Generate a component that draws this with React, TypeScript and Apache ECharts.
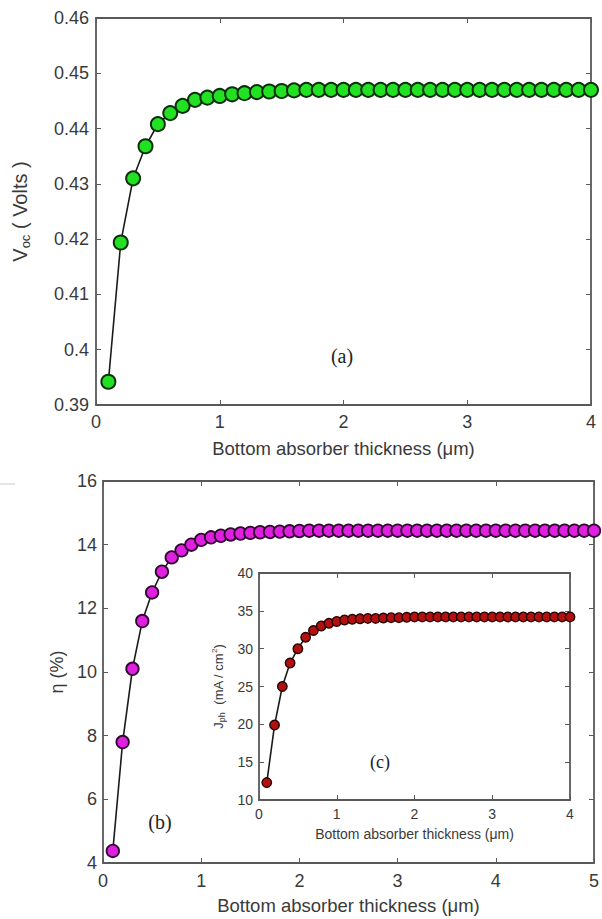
import React, { useEffect, useRef } from "react";
import * as echarts from "echarts";

// ---- data ----
const thicknessA = [
  0.1, 0.2, 0.3, 0.4, 0.5, 0.6, 0.7, 0.8, 0.9, 1.0,
  1.1, 1.2, 1.3, 1.4, 1.5, 1.6, 1.7, 1.8, 1.9, 2.0,
  2.1, 2.2, 2.3, 2.4, 2.5, 2.6, 2.7, 2.8, 2.9, 3.0,
  3.1, 3.2, 3.3, 3.4, 3.5, 3.6, 3.7, 3.8, 3.9, 4.0,
];
const vocValues = [
  0.3942, 0.4194, 0.431, 0.4368, 0.4408, 0.4428, 0.4441, 0.4452, 0.4456, 0.4459,
  0.4462, 0.4464, 0.4466, 0.4467, 0.4468, 0.4469, 0.447, 0.447, 0.447, 0.447,
  0.447, 0.447, 0.447, 0.447, 0.447, 0.447, 0.447, 0.447, 0.447, 0.447,
  0.447, 0.447, 0.447, 0.447, 0.447, 0.447, 0.447, 0.447, 0.447, 0.447,
];

const thicknessB = [
  0.1, 0.2, 0.3, 0.4, 0.5, 0.6, 0.7, 0.8, 0.9, 1.0,
  1.1, 1.2, 1.3, 1.4, 1.5, 1.6, 1.7, 1.8, 1.9, 2.0,
  2.1, 2.2, 2.3, 2.4, 2.5, 2.6, 2.7, 2.8, 2.9, 3.0,
  3.1, 3.2, 3.3, 3.4, 3.5, 3.6, 3.7, 3.8, 3.9, 4.0,
  4.1, 4.2, 4.3, 4.4, 4.5, 4.6, 4.7, 4.8, 4.9, 5.0,
];
const effValues = [
  4.38, 7.8, 10.1, 11.6, 12.5, 13.15, 13.6, 13.82, 14.0, 14.15,
  14.23, 14.28, 14.32, 14.35, 14.37, 14.39, 14.4, 14.41, 14.42, 14.43,
  14.44, 14.44, 14.44, 14.44, 14.44, 14.44, 14.44, 14.44, 14.44, 14.44,
  14.44, 14.44, 14.44, 14.44, 14.44, 14.44, 14.44, 14.44, 14.44, 14.44,
  14.44, 14.44, 14.44, 14.44, 14.44, 14.44, 14.44, 14.44, 14.44, 14.44,
];

const thicknessC = [
  0.1, 0.2, 0.3, 0.4, 0.5, 0.6, 0.7, 0.8, 0.9, 1.0,
  1.1, 1.2, 1.3, 1.4, 1.5, 1.6, 1.7, 1.8, 1.9, 2.0,
  2.1, 2.2, 2.3, 2.4, 2.5, 2.6, 2.7, 2.8, 2.9, 3.0,
  3.1, 3.2, 3.3, 3.4, 3.5, 3.6, 3.7, 3.8, 3.9, 4.0,
];
const jphValues = [
  12.3, 19.9, 25.0, 28.1, 30.0, 31.5, 32.4, 33.0, 33.35, 33.6,
  33.8, 33.9, 33.95, 34.0, 34.0, 34.05, 34.1, 34.1, 34.15, 34.2,
  34.2, 34.2, 34.2, 34.2, 34.2, 34.2, 34.2, 34.2, 34.2, 34.2,
  34.2, 34.2, 34.2, 34.2, 34.2, 34.2, 34.2, 34.2, 34.2, 34.2,
];

const xTitle = "Bottom absorber thickness (μm)";

const SANS = "'Liberation Sans', Arial, sans-serif";
const SERIF = "'Liberation Serif', 'DejaVu Serif', serif";
const AXIS = "#595959";
const TXT = "#3a3a3a";

function pairs(xs: number[], ys: number[]) {
  return xs.map((x, i) => [x, ys[i]]);
}

function mainX(grid: number, max: number, fontSize: number, margin: number, name: string, gap: number, nameSize: number) {
  return [
    {
      gridIndex: grid, type: "value", min: 0, max, interval: 1, position: "bottom",
      axisLine: { show: true, onZero: false, lineStyle: { color: AXIS, width: 1.8 } },
      axisTick: { show: true, inside: true, length: 5, lineStyle: { color: AXIS } },
      axisLabel: { color: TXT, fontSize, margin, fontFamily: SANS },
      splitLine: { show: false },
      name, nameLocation: "middle", nameGap: gap,
      nameTextStyle: { color: TXT, fontSize: nameSize, fontFamily: SANS },
    },
    {
      gridIndex: grid, type: "value", min: 0, max, interval: 1, position: "top",
      axisLine: { show: true, onZero: false, lineStyle: { color: AXIS, width: 1.8 } },
      axisTick: { show: true, inside: true, length: 5, lineStyle: { color: AXIS } },
      axisLabel: { show: false },
      splitLine: { show: false },
    },
  ];
}

function mainY(grid: number, min: number, max: number, interval: number, fontSize: number, margin: number, name: any, gap: number, nameSize: number, rich?: any) {
  return [
    {
      gridIndex: grid, type: "value", min, max, interval, position: "left",
      axisLine: { show: true, onZero: false, lineStyle: { color: AXIS, width: 1.8 } },
      axisTick: { show: true, inside: true, length: 5, lineStyle: { color: AXIS } },
      axisLabel: { color: TXT, fontSize, margin, fontFamily: SANS },
      splitLine: { show: false },
      name, nameLocation: "middle", nameGap: gap,
      nameTextStyle: { color: TXT, fontSize: nameSize, fontFamily: SANS, rich },
    },
    {
      gridIndex: grid, type: "value", min, max, interval, position: "right",
      axisLine: { show: true, onZero: false, lineStyle: { color: AXIS, width: 1.8 } },
      axisTick: { show: true, inside: true, length: 5, lineStyle: { color: AXIS } },
      axisLabel: { show: false },
      splitLine: { show: false },
    },
  ];
}

export default function App() {
  const ref = useRef<HTMLDivElement>(null);
  useEffect(() => {
    if (!ref.current) return;
    const chart = echarts.init(ref.current, null, { renderer: "svg" });
    const option: any = {
      animation: false,
      backgroundColor: "#fff",
      textStyle: { fontFamily: SANS },
      grid: [
        { left: 96, top: 18, width: 495, height: 387, show: true, borderWidth: 0, backgroundColor: "#fff" },
        { left: 103, top: 481, width: 495, height: 382, show: true, borderWidth: 0, backgroundColor: "#fff" },
        { left: 259, top: 573, width: 311, height: 227, show: true, borderWidth: 0, backgroundColor: "#fff" },
      ],
      xAxis: [
        ...mainX(0, 4, 18, 8, xTitle, 34, 18.5),
        ...mainX(1, 5, 18, 9, xTitle, 33, 18.5),
        ...mainX(2, 4, 14, 7, xTitle, 27, 14),
      ],
      yAxis: [
        ...mainY(0, 0.39, 0.46, 0.01, 18, 7, "{v|V}{s|oc}{v| ( Volts )}", 64, 20, {
          v: { fontSize: 20, color: TXT, fontFamily: SANS },
          s: { fontSize: 13, color: TXT, fontFamily: SANS, padding: [12, 0, 0, 0] },
        }),
        ...mainY(1, 4, 16, 2, 18, 6, "η (%)", 35, 18),
        ...mainY(2, 10, 40, 5, 14, 6, "{v|J}{s|ph}{v|  (mA / cm}{p|2}{v|)}", 30, 13, {
          v: { fontSize: 13, color: TXT, fontFamily: SANS },
          s: { fontSize: 9, color: TXT, fontFamily: SANS, padding: [8, 0, 0, 0] },
          p: { fontSize: 8, color: TXT, fontFamily: SANS, padding: [0, 0, 7, 0] },
        }),
      ],
      series: [
        {
          type: "line", xAxisIndex: 0, yAxisIndex: 0, data: pairs(thicknessA, vocValues),
          symbol: "circle", symbolSize: 14,
          lineStyle: { color: "#1a1a1a", width: 1.6 },
          itemStyle: { color: "#22e022", borderColor: "#0b300b", borderWidth: 2 },
        },
        {
          type: "line", xAxisIndex: 2, yAxisIndex: 2, data: pairs(thicknessB, effValues),
          symbol: "circle", symbolSize: 12.5,
          lineStyle: { color: "#1a1a1a", width: 1.6 },
          itemStyle: { color: "#e020e0", borderColor: "#300830", borderWidth: 1.8 },
        },
        {
          type: "line", xAxisIndex: 4, yAxisIndex: 4, data: pairs(thicknessC, jphValues),
          symbol: "circle", symbolSize: 9.5,
          lineStyle: { color: "#1a1a1a", width: 1.6 },
          itemStyle: { color: "#b31010", borderColor: "#250404", borderWidth: 1.4 },
        },
      ],
      graphic: [
        { type: "text", x: 342, y: 356, style: { text: "(a)", font: `20px ${SERIF}`, fill: "#222", align: "center", verticalAlign: "middle" } },
        { type: "text", x: 160, y: 822, style: { text: "(b)", font: `20px ${SERIF}`, fill: "#222", align: "center", verticalAlign: "middle" } },
        { type: "text", x: 380, y: 762, style: { text: "(c)", font: `18px ${SERIF}`, fill: "#222", align: "center", verticalAlign: "middle" } },
        { type: "line", shape: { x1: 0, y1: 484, x2: 15, y2: 484 }, style: { stroke: "#ddd", lineWidth: 1.5 } },
      ],
    };
    chart.setOption(option);
    return () => chart.dispose();
  }, []);
  return (
    <div
      ref={ref}
      style={{ position: "fixed", left: 0, top: 0, width: 602, height: 919 }}
    />
  );
}
